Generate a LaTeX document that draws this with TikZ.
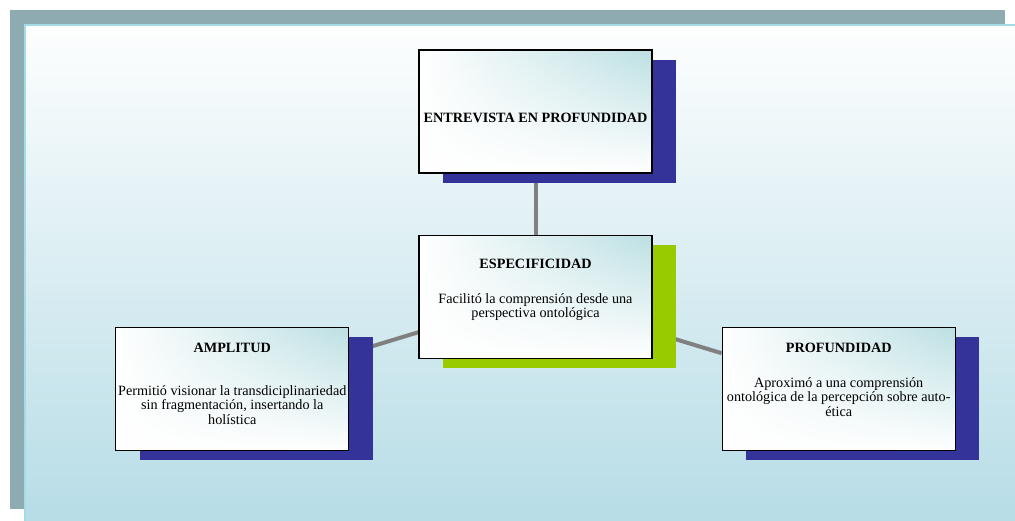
\documentclass[tikz,border=0pt]{standalone}
\usepackage{fontspec}
\setmainfont{Liberation Serif}
\usetikzlibrary{positioning,shadows,fadings,backgrounds}

\definecolor{framegrey}{HTML}{8FABB2}
\definecolor{panelline}{HTML}{A3DCE6}
\definecolor{paneltop}{HTML}{FDFEFE}
\definecolor{panelbottom}{HTML}{B6DCE6}
\definecolor{cardteal}{HTML}{BCE0E3}
\definecolor{shadowblue}{HTML}{333399}
\definecolor{shadowgreen}{HTML}{99CC00}
\definecolor{linkgrey}{HTML}{808080}

\begin{document}
\begin{tikzpicture}[%
		x=1pt, y=-1pt,
		node distance=61pt,
		card/.style={%
			general shadow={fill=#1, shadow xshift=24pt, shadow yshift=-10pt},
			preaction={fill=white},
			preaction={left color=white, middle color=cardteal!65, right color=cardteal, path fading=south},
			draw, line width=1.2pt,
			minimum width=233pt,
			minimum height=123pt,
			inner sep=0pt
		},
		card/.default=shadowblue,
		cardtext/.style={%
			align=center,
			inner sep=0pt,
			font=\fontsize{14.2}{14.5}\selectfont
		},
		link/.style={draw=linkgrey, line width=4pt}
		]
		\useasboundingbox (0,0) rectangle (1015,521);

		% frame and panel
		\begin{scope}[on background layer]
			\fill[framegrey] (10,10) rectangle (1005,509);
			\shade[top color=paneltop, bottom color=panelbottom, draw=panelline, line width=1.5pt]
				(25,25) rectangle (1022,528);
		\end{scope}

		\node[card] (entrevista) at (535.5,111.5)                      {};
		\node[card=shadowgreen] (especificidad) [below=of entrevista]   {};
		\node[card] (amplitud) [left=69pt of especificidad, yshift=-92pt]    {};
		\node[card] (profundidad) [right=69pt of especificidad, yshift=-92pt] {};

		\node[cardtext, yshift=-6.5pt] (entrevistatxt) at (entrevista)
			{\textbf{ENTREVISTA EN PROFUNDIDAD}};
		\node[cardtext] (especificidadtxt) [below=24pt of especificidad.north]
			{\textbf{ESPECIFICIDAD}\\[20.5pt]
			Facilitó la comprensión desde una\\
			perspectiva ontológica};
		\node[cardtext] (amplitudtxt) [below=16pt of amplitud.north]
			{\textbf{AMPLITUD}\\[28.5pt]
			Permitió visionar la transdiciplinariedad\\
			sin fragmentación, insertando la\\
			holística};
		\node[cardtext] (profundidadtxt) [below=16pt of profundidad.north]
			{\textbf{PROFUNDIDAD}\\[20.5pt]
			Aproximó a una comprensión\\
			ontológica de la percepción sobre auto-\\
			ética};

		% connectors
		\begin{scope}[on background layer]
			\path (entrevista) edge[link]    (especificidad)
			      (especificidad) edge[link] (amplitud)
			      (especificidad) edge[link] (profundidad);
		\end{scope}
\end{tikzpicture}
\end{document}
